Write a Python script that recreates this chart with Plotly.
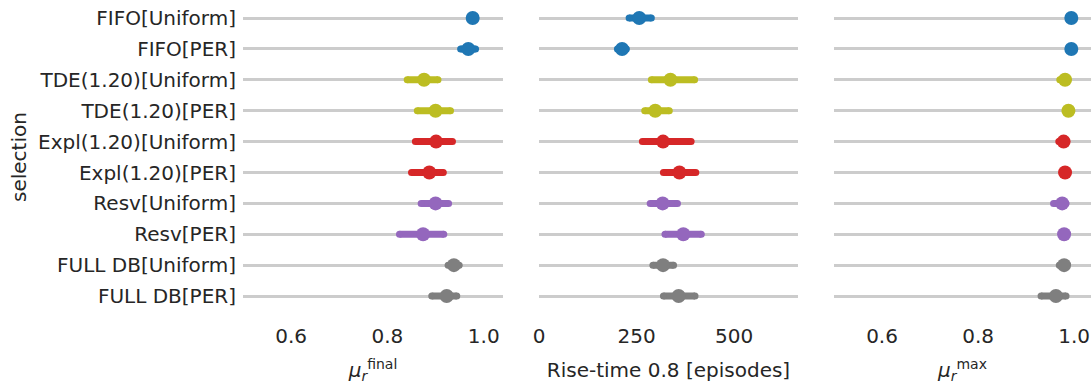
import plotly.graph_objects as go

categories = ["FIFO[Uniform]", "FIFO[PER]", "TDE(1.20)[Uniform]", "TDE(1.20)[PER]",
              "Expl(1.20)[Uniform]", "Expl(1.20)[PER]", "Resv[Uniform]", "Resv[PER]",
              "FULL DB[Uniform]", "FULL DB[PER]"]
colors = ["#1f77b4", "#1f77b4", "#bcbd22", "#bcbd22", "#d62728", "#d62728",
          "#9467bd", "#9467bd", "#7f7f7f", "#7f7f7f"]

final_mean = [0.977, 0.968, 0.876, 0.900, 0.901, 0.887, 0.900, 0.874, 0.938, 0.923]
final_lo = [0.975, 0.952, 0.841, 0.862, 0.858, 0.850, 0.870, 0.825, 0.926, 0.892]
final_hi = [0.979, 0.983, 0.905, 0.931, 0.935, 0.916, 0.927, 0.917, 0.949, 0.944]

rise_mean = [257, 213, 337, 298, 318, 360, 317, 370, 318, 358]
rise_lo = [231, 201, 288, 271, 265, 319, 285, 323, 292, 319]
rise_hi = [288, 224, 399, 334, 390, 402, 355, 416, 345, 400]

max_mean = [0.994, 0.994, 0.981, 0.988, 0.978, 0.981, 0.975, 0.979, 0.979, 0.962]
max_lo = [0.993, 0.993, 0.970, 0.987, 0.968, 0.980, 0.957, 0.978, 0.969, 0.931]
max_hi = [0.995, 0.995, 0.983, 0.989, 0.980, 0.982, 0.983, 0.980, 0.981, 0.983]

panels = [
    (final_mean, final_lo, final_hi, "x", "y"),
    (rise_mean, rise_lo, rise_hi, "x2", "y2"),
    (max_mean, max_lo, max_hi, "x3", "y3"),
]

FONT = "DejaVu Sans"
TXT = "#262626"
fig = go.Figure()

for mean, lo, hi, xa, ya in panels:
    for i, cat in enumerate(categories):
        fig.add_trace(go.Scatter(
            x=[lo[i], hi[i]], y=[cat, cat], xaxis=xa, yaxis=ya,
            mode="lines+markers", line=dict(color=colors[i], width=7),
            marker=dict(color=colors[i], size=7), showlegend=False, hoverinfo="skip"))
    fig.add_trace(go.Scatter(
        x=mean, y=categories, xaxis=xa, yaxis=ya, mode="markers",
        marker=dict(color=colors, size=14, line=dict(width=0)), showlegend=False))

H = 387.0
W = 1091.0
ydom = [1 - 311.5 / H, 1 - 2.6 / H]

xcommon = dict(showgrid=False, zeroline=False, showline=False, ticks="",
               tickfont=dict(family=FONT, size=20, color=TXT),
               ticklabelstandoff=10,
               title_font=dict(family=FONT, size=20, color=TXT),
               title_standoff=16)
ycommon = dict(type="category", categoryorder="array", categoryarray=categories,
               range=[9.5, -0.5], showgrid=True, gridcolor="#cccccc", gridwidth=2.5,
               zeroline=False, showline=False, ticks="", domain=ydom)

fig.update_layout(
    width=1091, height=387,
    margin=dict(l=0, r=0, t=0, b=0, autoexpand=False),
    plot_bgcolor="white", paper_bgcolor="white",
    font=dict(family=FONT, size=20, color=TXT),
    xaxis=dict(domain=[243 / W, 503 / W], range=[0.5, 1.04],
               tickvals=[0.6, 0.8, 1.0], ticktext=["0.6", "0.8", "1.0"],
               title_text="<i>μ</i><sub><i>r</i></sub><sup>final</sup>", anchor="y", **xcommon),
    xaxis2=dict(domain=[539 / W, 798 / W], range=[0, 664],
                tickvals=[0, 250, 500], title_text="Rise-time 0.8 [episodes]", anchor="y2", **xcommon),
    xaxis3=dict(domain=[834 / W, 1.0], range=[0.5, 1.035],
                tickvals=[0.6, 0.8, 1.0], ticktext=["0.6", "0.8", "1.0"],
                title_text="<i>μ</i><sub><i>r</i></sub><sup>max</sup>", anchor="y3", **xcommon),
    yaxis=dict(anchor="x", showticklabels=True, ticklabelstandoff=6,
               tickfont=dict(family=FONT, size=20, color=TXT),
               title=dict(text="selection", font=dict(family=FONT, size=20, color=TXT),
                          standoff=6), **ycommon),
    yaxis2=dict(anchor="x2", showticklabels=False, **ycommon),
    yaxis3=dict(anchor="x3", showticklabels=False, **ycommon),
)

fig.write_html("out.html")
